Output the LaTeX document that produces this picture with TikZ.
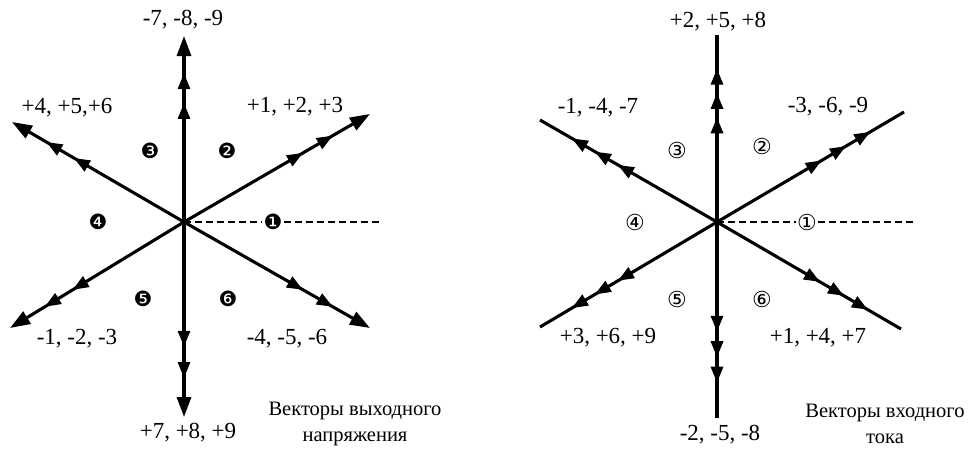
\documentclass[tikz,border=0pt]{standalone}
\usepackage{fontspec}
\setmainfont{Liberation Serif}
\newfontfamily\symfont{DejaVu Sans}
\usetikzlibrary{arrows.meta,decorations.markings}
\begin{document}
\begin{tikzpicture}[x=1pt,y=-1pt,
  vec/.style={line width=3.1pt},
  tipL/.style={-{Triangle[length=20pt,width=14pt]}},
  headsL/.style={postaction={decorate},decoration={markings,
     mark=at position 0.64 with {\arrow{Triangle[length=16pt,width=12pt]}},
     mark=at position 0.80 with {\arrow{Triangle[length=16pt,width=12pt]}}}},
  headsR/.style={postaction={decorate},decoration={markings,
     mark=at position 0.56 with {\arrow{Triangle[length=16pt,width=12pt]}},
     mark=at position 0.69 with {\arrow{Triangle[length=16pt,width=12pt]}},
     mark=at position 0.82 with {\arrow{Triangle[length=16pt,width=12pt]}}}},
  dashline/.style={line width=1.5pt,dash pattern=on 7pt off 4pt},
  lbl/.style={font=\fontsize{23}{26}\selectfont,inner sep=1pt},
  captxt/.style={font=\fontsize{20.5}{26}\selectfont,align=center,inner sep=0pt},
  blk/.style={font=\symfont\fontsize{21}{21}\selectfont,inner sep=1pt},
  wht/.style={font=\symfont\fontsize{22}{22}\selectfont,inner sep=1pt}]
\useasboundingbox (0,0) rectangle (969,448);

% ---------- left diagram ----------
\coordinate (A) at (184,222);
\coordinate (AU) at (184,36);
\coordinate (AD) at (184,417);
\coordinate (AUR) at (370,114);
\coordinate (AUL) at (12,122);
\coordinate (ADL) at (10,328);
\coordinate (ADR) at (370,328);
\coordinate (AE) at (380,222);

\node[blk,fill=white] (a1) at (273,222) {❶};
\draw[dashline] (A) -- (a1.west);
\draw[dashline] (a1.east) -- (AE);
\draw[vec,tipL,headsL] (A) -- (AU);
\draw[vec,tipL,headsL] (A) -- (AD);
\draw[vec,tipL,headsL] (A) -- (AUR);
\draw[vec,tipL,headsL] (A) -- (AUL);
\draw[vec,tipL,headsL] (A) -- (ADL);
\draw[vec,tipL,headsL] (A) -- (ADR);

\node[blk] (a2) at (227,151) {❷};
\node[blk] (a3) at (150,151) {❸};
\node[blk] (a4) at (98,222) {❹};
\node[blk] (a5) at (143,299) {❺};
\node[blk] (a6) at (228,299) {❻};

\node[lbl] (la1) at (183,20) {-7, -8, -9};
\node[lbl] (la2) at (67,108) {+4, +5,+6};
\node[lbl] (la3) at (295,107) {+1, +2, +3};
\node[lbl] (la4) at (77,339) {-1, -2, -3};
\node[lbl] (la5) at (287,339) {-4, -5, -6};
\node[lbl] (la6) at (188,433) {+7, +8, +9};
\node[captxt] (ca) at (355,424) {Векторы выходного\\напряжения};

% ---------- right diagram ----------
\coordinate (B) at (717,222);
\coordinate (BU) at (717,35);
\coordinate (BD) at (717,418);
\coordinate (BUR) at (904,112);
\coordinate (BUL) at (540,120);
\coordinate (BDL) at (540,327);
\coordinate (BDR) at (901,329);
\coordinate (BE) at (913,222);

\node[wht,fill=white] (b1) at (807,222) {①};
\draw[dashline] (B) -- (b1.west);
\draw[dashline] (b1.east) -- (BE);
\draw[vec,headsR] (B) -- (BU);
\draw[vec,headsR] (B) -- (BD);
\draw[vec,headsR] (B) -- (BUR);
\draw[vec,headsR] (B) -- (BUL);
\draw[vec,headsR] (B) -- (BDL);
\draw[vec,headsR] (B) -- (BDR);

\node[wht] (b2) at (762,146) {②};
\node[wht] (b3) at (677,150) {③};
\node[wht] (b4) at (635,222) {④};
\node[wht] (b5) at (677,299) {⑤};
\node[wht] (b6) at (762,299) {⑥};

\node[lbl] (lb1) at (718,22) {+2, +5, +8};
\node[lbl] (lb2) at (598,108) {-1, -4, -7};
\node[lbl] (lb3) at (828,107) {-3, -6, -9};
\node[lbl] (lb4) at (608,338) {+3, +6, +9};
\node[lbl] (lb5) at (818,338) {+1, +4, +7};
\node[lbl] (lb6) at (720,435) {-2, -5, -8};
\node[captxt] (cb) at (885,424) {Векторы входного\\тока};
\end{tikzpicture}
\end{document}
